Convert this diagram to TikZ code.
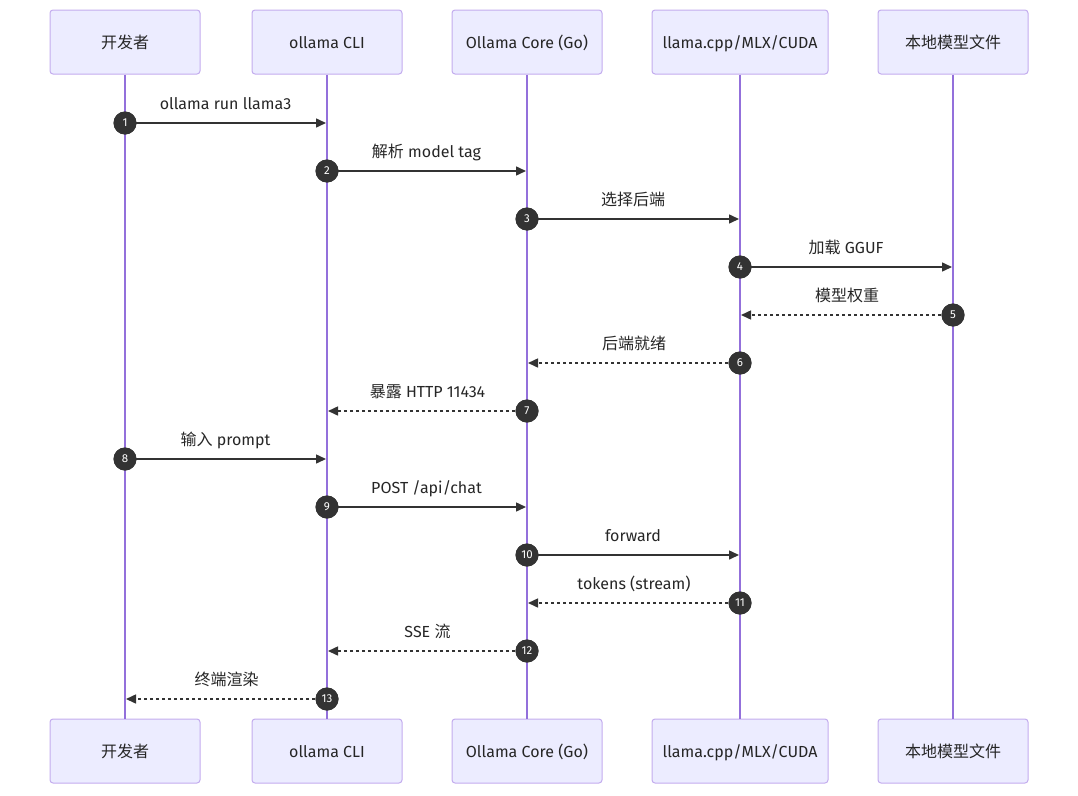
\documentclass[tikz,border=0pt]{standalone}
\usepackage{fontspec}
\setmainfont{Fira Sans}
\newfontfamily\cjk{Noto Sans CJK SC}
\usetikzlibrary{arrows.meta}
\definecolor{actorfill}{HTML}{ECECFF}
\definecolor{actorborder}{HTML}{C3ACEE}
\definecolor{lifecol}{HTML}{9370DB}
\definecolor{msgcol}{HTML}{333333}
\tikzset{
  actor/.style={draw=actorborder, fill=actorfill, rounded corners=3pt, minimum height=64pt, line width=1pt, font=\fontsize{16}{19}\selectfont, text=black!85, text height=14pt, text depth=1pt},
  life/.style={draw=lifecol, line width=1.5pt},
  num/.style={circle, fill=msgcol, minimum size=23pt, inner sep=0pt, text=white, font=\fontsize{11.5}{12}\selectfont},
  msgline/.style={draw=msgcol, line width=1.5pt, -{Triangle[length=10pt,width=9pt]}},
  ret/.style={msgline, dash pattern=on 3pt off 3pt},
  lbl/.style={font=\fontsize{16}{19}\selectfont, text=black!85, inner sep=0pt, text height=12pt, text depth=4pt}
}
\begin{document}
\begin{tikzpicture}[x=1pt,y=-1pt]
\useasboundingbox (0,0) rectangle (1078,795);
% actors
\foreach \i/\x/\w/\t in {1/125/150/{{\cjk 开发者}},2/327/150/{ollama CLI},3/527/150/{Ollama Core (Go)},4/740/176/{llama.cpp/MLX/CUDA},5/953/150/{{\cjk 本地模型文件}}}{
  \node[actor, minimum width=\w pt] (t\i) at (\x,42) {\t};
  \node[actor, minimum width=\w pt] (b\i) at (\x,751) {\t};
  \draw[life] (t\i.south) -- (b\i.north);
}
% messages
\foreach \n/\y/\sx/\tx/\st/\l in {
 1/123/125/326/msgline/{ollama run llama3},
 2/171/327/526/msgline/{{\cjk 解析} model tag},
 3/219/527/739/msgline/{{\cjk 选择后端}},
 4/267/740/952/msgline/{{\cjk 加载} GGUF},
 5/315/953/741/ret/{{\cjk 模型权重}},
 6/363/740/528/ret/{{\cjk 后端就绪}},
 7/411/527/328/ret/{{\cjk 暴露} HTTP 11434},
 8/459/125/326/msgline/{{\cjk 输入} prompt},
 9/507/327/526/msgline/{POST /api/chat},
 10/555/527/739/msgline/{forward},
 11/603/740/528/ret/{tokens (stream)},
 12/651/527/328/ret/{SSE {\cjk 流}},
 13/699/327/126/ret/{{\cjk 终端渲染}}}{
  \coordinate (e\n) at (\tx,\y);
  \node[num] (n\n) at (\sx,\y) {};
  \draw[\st] (n\n.center) -- (e\n);
  \node[num] at (n\n.center) {\n};
  \node[lbl] (l\n) at ({(\sx+\tx)/2},\y-17.5) {\l};
}
\end{tikzpicture}
\end{document}
